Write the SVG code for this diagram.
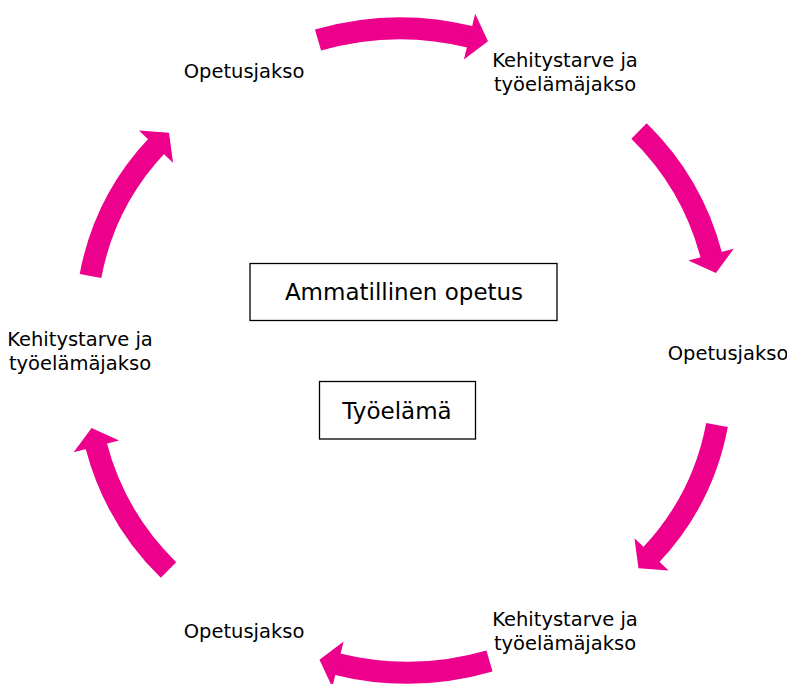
<svg xmlns="http://www.w3.org/2000/svg" width="787" height="684" viewBox="0 0 787 684">
<style>
.lbl{font-family:"DejaVu Sans",Verdana,sans-serif;font-size:19.5px;fill:#000;text-anchor:middle}
.big{font-family:"DejaVu Sans",Verdana,sans-serif;font-size:23px;fill:#000;text-anchor:middle}
.box{fill:#fff;stroke:#000;stroke-width:1.3}
.arr{fill:none;stroke:#EC008C;stroke-width:22;stroke-linecap:butt;marker-end:url(#ah)}
</style>
<defs>
<marker id="ah" markerUnits="userSpaceOnUse" viewBox="-2 -25 22 50" markerWidth="22" markerHeight="50" refX="0" refY="0" orient="auto" overflow="visible">
<path d="M-1.5,-23.5 L17.5,0 L-1.5,23.5 Z" fill="#EC008C"/>
</marker>
</defs>
<rect width="787" height="684" fill="#fff"/>
<g id="connectors">
<path class="arr" d="M318,40 A295,295 0 0 1 471,37"/>
<path class="arr" d="M639,131 A270,270 0 0 1 711.5,256"/>
<path class="arr" d="M717,425 A260,260 0 0 1 650.5,555.5"/>
<path class="arr" d="M489.5,661 A295,295 0 0 1 336.5,664"/>
<path class="arr" d="M168.5,570 A270,270 0 0 1 96,445"/>
<path class="arr" d="M90.5,276 A260,260 0 0 1 157,145.5"/>
</g>
<g id="node-opetus-top"><text class="lbl" x="244" y="78">Opetusjakso</text></g>
<g id="node-kehitys-topright"><text class="lbl" x="565" y="67">Kehitystarve ja</text><text class="lbl" x="565" y="91">työelämäjakso</text></g>
<g id="node-opetus-right"><text class="lbl" x="728" y="360">Opetusjakso</text></g>
<g id="node-kehitys-bottomright"><text class="lbl" x="565" y="626">Kehitystarve ja</text><text class="lbl" x="565" y="650">työelämäjakso</text></g>
<g id="node-opetus-bottom"><text class="lbl" x="244" y="638">Opetusjakso</text></g>
<g id="node-kehitys-left"><text class="lbl" x="80" y="346">Kehitystarve ja</text><text class="lbl" x="80" y="370">työelämäjakso</text></g>
<g id="node-ammatillinen"><rect class="box" x="250" y="263.5" width="307" height="57"/><text class="big" x="404" y="300">Ammatillinen opetus</text></g>
<g id="node-tyoelama"><rect class="box" x="319.5" y="381.5" width="156" height="57.5"/><text class="big" x="397" y="419">Työelämä</text></g>
</svg>
